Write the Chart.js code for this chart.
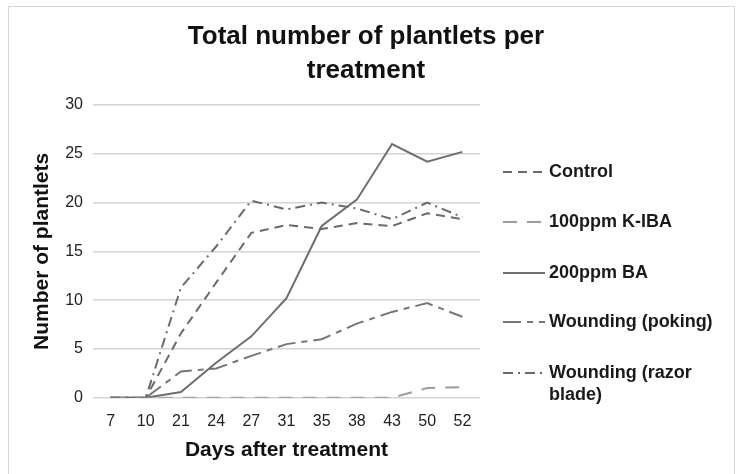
<!DOCTYPE html>
<html>
<head>
<meta charset="utf-8">
<script src="https://cdn.jsdelivr.net/npm/chart.js@4"></script>
<style>
  html, body { margin: 0; padding: 0; background: #fff; }
  #wrap { width: 740px; height: 474px; }
</style>
</head>
<body>
<div id="wrap"><canvas id="plantletChart" width="740" height="474"></canvas></div>
<script>
// Days after treatment
const days = ['7', '10', '21', '24', '27', '31', '35', '38', '43', '50', '52'];

// Number of plantlets per treatment
const control = [0, 0, 6.6, 11.8, 16.9, 17.7, 17.3, 17.9, 17.6, 18.9, 18.3];
const kIba = [0, 0, 0, 0, 0, 0, 0, 0, 0, 1.0, 1.1];
const ba200 = [0, 0, 0.6, 3.6, 6.3, 10.2, 17.6, 20.3, 26.0, 24.2, 25.2];
const poking = [0, 0, 2.7, 3.0, 4.3, 5.5, 6.0, 7.6, 8.8, 9.7, 8.3];
const razor = [0, 0, 11.3, 15.5, 20.2, 19.3, 20.0, 19.4, 18.3, 20.0, 18.5];

const yTicks = [0, 5, 10, 15, 20, 25, 30];

const seriesNames = ['Control', '100ppm K-IBA', '200ppm BA', 'Wounding (poking)', ['Wounding (razor', 'blade)']];
const chartTitle = ['Total number of plantlets per', 'treatment'];

const FONT = '"Liberation Sans", Arial, sans-serif';

// frame around the figure + title centred on the whole figure
const framePlugin = {
    id: 'frame',
    beforeDraw(chart) {
        const ctx = chart.ctx;
        ctx.save();
        ctx.strokeStyle = '#d6d6d6';
        ctx.lineWidth = 1;
        ctx.strokeRect(8.5, 6.5, 726, 470);
        ctx.fillStyle = '#111';
        ctx.font = 'bold 26px ' + FONT;
        ctx.textAlign = 'center';
        ctx.textBaseline = 'middle';
        chartTitle.forEach((t, i) => ctx.fillText(t, 366, 37 + i * 34));
        ctx.restore();
    }
};

// legend on the right, drawn by hand so the last entry can wrap
const sideLegend = {
    id: 'sideLegend',
    afterDraw(chart) {
        const ctx = chart.ctx;
        const area = chart.chartArea;
        const x0 = area.right + 23;
        const rowY = [172, 222, 273, 322, 373];
        ctx.save();
        chart.data.datasets.forEach((ds, i) => {
            const y = rowY[i];
            ctx.strokeStyle = ds.borderColor;
            ctx.lineWidth = ds.borderWidth;
            ctx.setLineDash(ds.borderDash || []);
            ctx.beginPath();
            ctx.moveTo(x0, y);
            ctx.lineTo(x0 + 42, y);
            ctx.stroke();
            ctx.setLineDash([]);
            ctx.fillStyle = '#1a1a1a';
            ctx.font = 'bold 18px ' + FONT;
            ctx.textBaseline = 'middle';
            const lines = Array.isArray(seriesNames[i]) ? seriesNames[i] : [seriesNames[i]];
            lines.forEach((t, j) => ctx.fillText(t, x0 + 46, y + j * 22));
        });
        ctx.restore();
    }
};

const ctx = document.getElementById('plantletChart');
new Chart(ctx, {
    type: 'line',
    data: {
        labels: days,
        datasets: [
            {
                label: 'Control',
                data: control,
                borderColor: '#6a6a6a',
                borderWidth: 2,
                borderDash: [9, 6]
            },
            {
                label: '100ppm K-IBA',
                data: kIba,
                borderColor: '#9c9c9c',
                borderWidth: 2,
                borderDash: [14, 10]
            },
            {
                label: '200ppm BA',
                data: ba200,
                borderColor: '#6e6e6e',
                borderWidth: 2
            },
            {
                label: 'Wounding (poking)',
                data: poking,
                borderColor: '#767676',
                borderWidth: 2,
                borderDash: [18, 6, 6, 6]
            },
            {
                label: 'Wounding (razor blade)',
                data: razor,
                borderColor: '#6a6a6a',
                borderWidth: 2,
                borderDash: [10, 5, 2, 5]
            }
        ]
    },
    options: {
        responsive: false,
        animation: false,
        events: [],
        elements: {
            point: { radius: 0 },
            line: { tension: 0 }
        },
        layout: {
            padding: { left: 26, right: 260, top: 105, bottom: 13 }
        },
        scales: {
            x: {
                offset: true,
                grid: { display: false },
                border: { display: false },
                ticks: {
                    color: '#222',
                    font: { family: FONT, size: 16 },
                    padding: 6,
                    maxRotation: 0
                },
                title: {
                    display: true,
                    text: 'Days after treatment',
                    color: '#111',
                    font: { family: FONT, size: 21, weight: 'bold', lineHeight: 1 },
                    padding: { top: 3, bottom: 0 }
                }
            },
            y: {
                min: 0,
                max: 30,
                afterBuildTicks(scale) {
                    scale.ticks = yTicks.map(v => ({ value: v }));
                },
                grid: { color: '#d4d4d4', lineWidth: 1.5, drawTicks: false },
                border: { display: false },
                ticks: {
                    color: '#222',
                    font: { family: FONT, size: 16 },
                    padding: 10
                },
                title: {
                    display: true,
                    text: 'Number of plantlets',
                    color: '#111',
                    font: { family: FONT, size: 21, weight: 'bold' },
                    padding: { bottom: 0 }
                }
            }
        },
        plugins: {
            legend: { display: false },
            tooltip: { enabled: false },
            title: { display: false }
        }
    },
    plugins: [framePlugin, sideLegend]
});
</script>
</body>
</html>
